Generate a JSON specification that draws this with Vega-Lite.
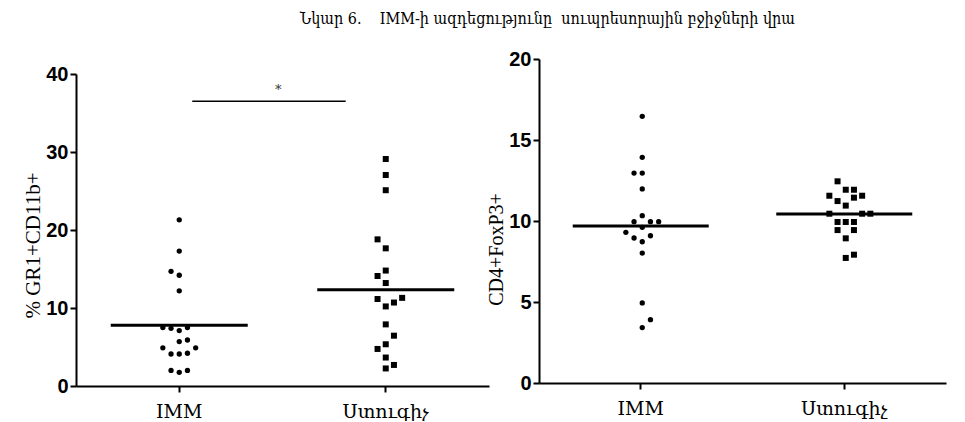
{
  "$schema": "https://vega.github.io/schema/vega-lite/v6.json",
  "padding": {"left": 22, "top": 11, "right": 5, "bottom": 0},
  "background": "white",
  "title": {"text": "Նկար 6.\u00a0\u00a0\u00a0\u00a0IMM-ի ազդեցությունը\u00a0\u00a0սուպրեսորային բջիջների վրա", "font": "DejaVu Serif Condensed, DejaVu Serif", "fontSize": 16, "fontWeight": "normal", "color": "black", "anchor": "middle", "dx": 63, "offset": 22},
  "config": {
    "view": {"stroke": null},
    "axis": {"grid": false, "domainColor": "black", "domainWidth": 2, "tickColor": "black", "tickWidth": 2, "tickSize": 6, "labelColor": "black", "titleColor": "black"},
    "concat": {"spacing": 50}
  },
  "bounds": "flush",
  "datasets": {
    "leftPoints": [
      {"group": "IMM", "col": 0, "value": 21.3},
      {"group": "IMM", "col": 0, "value": 17.3},
      {"group": "IMM", "col": -1, "value": 14.7},
      {"group": "IMM", "col": 0, "value": 14.2},
      {"group": "IMM", "col": 0, "value": 12.2},
      {"group": "IMM", "col": -2, "value": 7.5},
      {"group": "IMM", "col": -1, "value": 7.4},
      {"group": "IMM", "col": 0, "value": 7.1},
      {"group": "IMM", "col": 1, "value": 7.5},
      {"group": "IMM", "col": 0, "value": 5.7},
      {"group": "IMM", "col": 1, "value": 5.9},
      {"group": "IMM", "col": -2, "value": 4.9},
      {"group": "IMM", "col": -1, "value": 4.1},
      {"group": "IMM", "col": 0, "value": 4.1},
      {"group": "IMM", "col": 1, "value": 4.2},
      {"group": "IMM", "col": 2, "value": 4.9},
      {"group": "IMM", "col": -1, "value": 2.0},
      {"group": "IMM", "col": 0, "value": 1.75},
      {"group": "IMM", "col": 1, "value": 2.0},
      {"group": "Ստուգիչ", "col": 0, "value": 29.1},
      {"group": "Ստուգիչ", "col": 0, "value": 27.05},
      {"group": "Ստուգիչ", "col": 0, "value": 25.1},
      {"group": "Ստուգիչ", "col": -1, "value": 18.8},
      {"group": "Ստուգիչ", "col": 0, "value": 17.65},
      {"group": "Ստուգիչ", "col": 0, "value": 14.8},
      {"group": "Ստուգիչ", "col": -1, "value": 14.1},
      {"group": "Ստուգիչ", "col": 0, "value": 13.2},
      {"group": "Ստուգիչ", "col": -1, "value": 11.15},
      {"group": "Ստուգիչ", "col": 0, "value": 10.2},
      {"group": "Ստուգիչ", "col": 1, "value": 10.7},
      {"group": "Ստուգիչ", "col": 2, "value": 11.3},
      {"group": "Ստուգիչ", "col": 0, "value": 7.9},
      {"group": "Ստուգիչ", "col": 1, "value": 6.45},
      {"group": "Ստուգիչ", "col": 0, "value": 5.35},
      {"group": "Ստուգիչ", "col": -1, "value": 4.75},
      {"group": "Ստուգիչ", "col": 0, "value": 3.65},
      {"group": "Ստուգիչ", "col": 0, "value": 2.25},
      {"group": "Ստուգիչ", "col": 1, "value": 2.7}
    ],
    "leftMeans": [
      {"group": "IMM", "mean": 7.8},
      {"group": "Ստուգիչ", "mean": 12.35}
    ],
    "leftSig": [
      {"from": "IMM", "to": "Ստուգիչ", "bar": 36.5, "star": 37.9, "label": "*"}
    ],
    "rightPoints": [
      {"group": "IMM", "col": 0, "value": 16.46},
      {"group": "IMM", "col": 0, "value": 13.93},
      {"group": "IMM", "col": -1, "value": 12.96},
      {"group": "IMM", "col": 0, "value": 12.96},
      {"group": "IMM", "col": 0, "value": 11.98},
      {"group": "IMM", "col": 0, "value": 10.33},
      {"group": "IMM", "col": -1, "value": 9.96},
      {"group": "IMM", "col": 1, "value": 9.96},
      {"group": "IMM", "col": 2, "value": 9.96},
      {"group": "IMM", "col": 0, "value": 9.61},
      {"group": "IMM", "col": -2, "value": 9.3},
      {"group": "IMM", "col": -1, "value": 8.95},
      {"group": "IMM", "col": 1, "value": 9.09},
      {"group": "IMM", "col": 0, "value": 8.72},
      {"group": "IMM", "col": 0, "value": 8.02},
      {"group": "IMM", "col": 0, "value": 4.94},
      {"group": "IMM", "col": 1, "value": 3.91},
      {"group": "IMM", "col": 0, "value": 3.42},
      {"group": "Ստուգիչ", "col": -1, "value": 12.45},
      {"group": "Ստուգիչ", "col": 0, "value": 11.93},
      {"group": "Ստուգիչ", "col": 1, "value": 11.93},
      {"group": "Ստուգիչ", "col": -2, "value": 11.56},
      {"group": "Ստուգիչ", "col": 1, "value": 11.44},
      {"group": "Ստուգիչ", "col": 2, "value": 11.56},
      {"group": "Ստուգիչ", "col": -1, "value": 11.23},
      {"group": "Ստուգիչ", "col": 0, "value": 10.95},
      {"group": "Ստուգիչ", "col": -2, "value": 10.45},
      {"group": "Ստուգիչ", "col": 2, "value": 10.45},
      {"group": "Ստուգիչ", "col": 3, "value": 10.45},
      {"group": "Ստուգիչ", "col": -1, "value": 9.94},
      {"group": "Ստուգիչ", "col": 0, "value": 9.94},
      {"group": "Ստուգիչ", "col": 1, "value": 9.94},
      {"group": "Ստուգիչ", "col": -1, "value": 9.44},
      {"group": "Ստուգիչ", "col": 1, "value": 9.44},
      {"group": "Ստուգիչ", "col": 0, "value": 8.93},
      {"group": "Ստուգիչ", "col": 0, "value": 7.72},
      {"group": "Ստուգիչ", "col": 1, "value": 7.92}
    ],
    "rightMeans": [
      {"group": "IMM", "mean": 9.69},
      {"group": "Ստուգիչ", "mean": 10.43}
    ]
  },
  "hconcat": [
    {
      "width": 413,
      "height": 327,
      "encoding": {
        "x": {"field": "group", "type": "nominal", "scale": {"domain": ["IMM", "Ստուգիչ"], "paddingInner": 0, "paddingOuter": 0},
              "axis": {"title": null, "labelAngle": 0, "labelFont": "DejaVu Serif", "labelFontSize": 19, "labelPadding": 10}}
      },
      "layer": [
        {
          "data": {"name": "leftPoints"},
          "mark": {"type": "point", "filled": true, "opacity": 1, "color": "black"},
          "encoding": {
            "xOffset": {"field": "col", "type": "quantitative", "scale": {"domain": [-3, 3], "range": [78.65, 127.85]}},
            "y": {"field": "value", "type": "quantitative", "scale": {"domain": [0, 40], "nice": false, "range": [327, 15]},
                  "axis": {"values": [0, 10, 20, 30, 40], "title": "% GR1+CD11b+", "titleFont": "Liberation Serif", "titleFontSize": 21, "titleFontWeight": "normal", "labelFont": "Liberation Sans", "labelFontSize": 20, "labelFontWeight": "bold", "labelPadding": 2, "titlePadding": 2, "titleY": 186}},
            "shape": {"field": "group", "type": "nominal", "scale": {"domain": ["IMM", "Ստուգիչ"], "range": ["circle", "square"]}, "legend": null},
            "size": {"field": "group", "type": "nominal", "scale": {"domain": ["IMM", "Ստուգիչ"], "range": [28, 36]}, "legend": null}
          }
        },
        {
          "data": {"name": "leftMeans"},
          "mark": {"type": "tick", "color": "black", "size": 137, "thickness": 3, "opacity": 1},
          "encoding": {"y": {"field": "mean", "type": "quantitative"}}
        },
        {
          "data": {"name": "leftSig"},
          "mark": {"type": "rule", "color": "black", "strokeWidth": 1.5},
          "encoding": {
            "x": {"field": "from", "type": "nominal", "bandPosition": 0.563},
            "x2": {"field": "to", "bandPosition": 0.306},
            "y": {"field": "bar", "type": "quantitative"}
          }
        },
        {
          "data": {"name": "leftSig"},
          "mark": {"type": "text", "font": "DejaVu Serif", "fontSize": 13, "color": "#333333"},
          "encoding": {
            "x": {"field": "from", "type": "nominal", "bandPosition": 0.98},
            "y": {"field": "star", "type": "quantitative"},
            "text": {"field": "label"}
          }
        }
      ]
    },
    {
      "width": 407,
      "height": 324,
      "encoding": {
        "x": {"field": "group", "type": "nominal", "scale": {"domain": ["IMM", "Ստուգիչ"], "paddingInner": 0, "paddingOuter": 0},
              "axis": {"title": null, "labelAngle": 0, "labelFont": "DejaVu Serif", "labelFontSize": 19, "labelPadding": 10}}
      },
      "layer": [
        {
          "data": {"name": "rightPoints"},
          "mark": {"type": "point", "filled": true, "opacity": 1, "color": "black"},
          "encoding": {
            "xOffset": {"field": "col", "type": "quantitative", "scale": {"domain": [-3, 3], "range": [77.15, 126.35]}},
            "y": {"field": "value", "type": "quantitative", "scale": {"domain": [0, 20], "nice": false},
                  "axis": {"values": [0, 5, 10, 15, 20], "title": "CD4+FoxP3+", "titleFont": "Liberation Serif", "titleFontSize": 20, "titleFontWeight": "normal", "labelFont": "Liberation Sans", "labelFontSize": 20, "labelFontWeight": "bold", "labelPadding": 2, "titlePadding": 2, "titleY": 190}},
            "shape": {"field": "group", "type": "nominal", "scale": {"domain": ["IMM", "Ստուգիչ"], "range": ["circle", "square"]}, "legend": null},
            "size": {"field": "group", "type": "nominal", "scale": {"domain": ["IMM", "Ստուգիչ"], "range": [28, 36]}, "legend": null}
          }
        },
        {
          "data": {"name": "rightMeans"},
          "mark": {"type": "tick", "color": "black", "size": 136, "thickness": 3, "opacity": 1},
          "encoding": {"y": {"field": "mean", "type": "quantitative"}}
        }
      ]
    }
  ]
}
